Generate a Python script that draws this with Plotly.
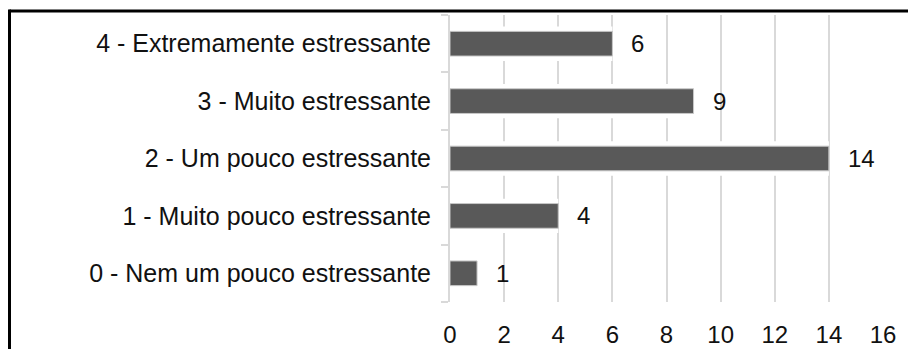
import plotly.graph_objects as go

# Survey answers: how stressful is it (counts of respondents)
categories = [
    "4 - Extremamente estressante",
    "3 - Muito estressante",
    "2 - Um pouco estressante",
    "1 - Muito pouco estressante",
    "0 - Nem um pouco estressante",
]
counts = [6, 9, 14, 4, 1]
x_ticks = [0, 2, 4, 6, 8, 10, 12, 14, 16]

W, H = 908, 349
M_L, M_R, M_T, M_B = 450, 25, 15, 47
FONT = "Liberation Sans, Arial, sans-serif"
GRID = "#d9d9d9"
BAR = "#595959"


def px_x(px):
    return (px - M_L) / (W - M_L - M_R)


def px_y(py):
    return (H - M_B - py) / (H - M_T - M_B)


fig = go.Figure()

# white halo behind each bar, breaking the gridlines around it
fig.add_trace(go.Bar(
    x=counts, y=categories, orientation="h",
    width=0.6, marker=dict(color="white", line=dict(width=0)),
    hoverinfo="skip", showlegend=False,
))
fig.add_trace(go.Bar(
    x=counts, y=categories, orientation="h",
    width=0.43, marker=dict(color=BAR, line=dict(color="#c8c8c8", width=1)),
    showlegend=False,
))

# value labels next to the bar ends
for c, v in zip(categories, counts):
    fig.add_annotation(
        x=v, y=c, text=str(v), showarrow=False,
        xanchor="left", xshift=17,
        font=dict(family=FONT, size=24, color="#111111"),
    )

# black frame around the chart (left and top edges)
frame = dict(color="black", width=3)
fig.add_shape(type="line", xref="paper", yref="paper",
              x0=px_x(9.5), x1=px_x(W + 5), y0=px_y(11), y1=px_y(11), line=frame)
fig.add_shape(type="line", xref="paper", yref="paper",
              x0=px_x(9.5), x1=px_x(9.5), y0=px_y(9.5), y1=px_y(H + 5), line=frame)

fig.update_layout(
    width=W, height=H,
    margin=dict(l=M_L, r=M_R, t=M_T, b=M_B, autoexpand=False),
    paper_bgcolor="white", plot_bgcolor="white",
    barmode="overlay",
    font=dict(family=FONT, size=25, color="#111111"),
    xaxis=dict(
        range=[0, 16], tickvals=x_ticks, ticktext=[str(t) for t in x_ticks],
        showgrid=True, gridcolor=GRID, gridwidth=2,
        zeroline=False, showline=False,
        ticks="outside", ticklen=11, tickcolor="rgba(0,0,0,0)",
        tickfont=dict(size=24), automargin=False,
    ),
    yaxis=dict(
        categoryorder="array", categoryarray=categories[::-1],
        showline=True, linecolor=GRID, linewidth=2,
        ticks="outside", tickson="boundaries", ticklen=7,
        tickcolor=GRID, tickwidth=2,
        showgrid=False, zeroline=False,
        tickfont=dict(size=25), ticklabelstandoff=12, automargin=False,
    ),
)

fig.write_html("out.html")
